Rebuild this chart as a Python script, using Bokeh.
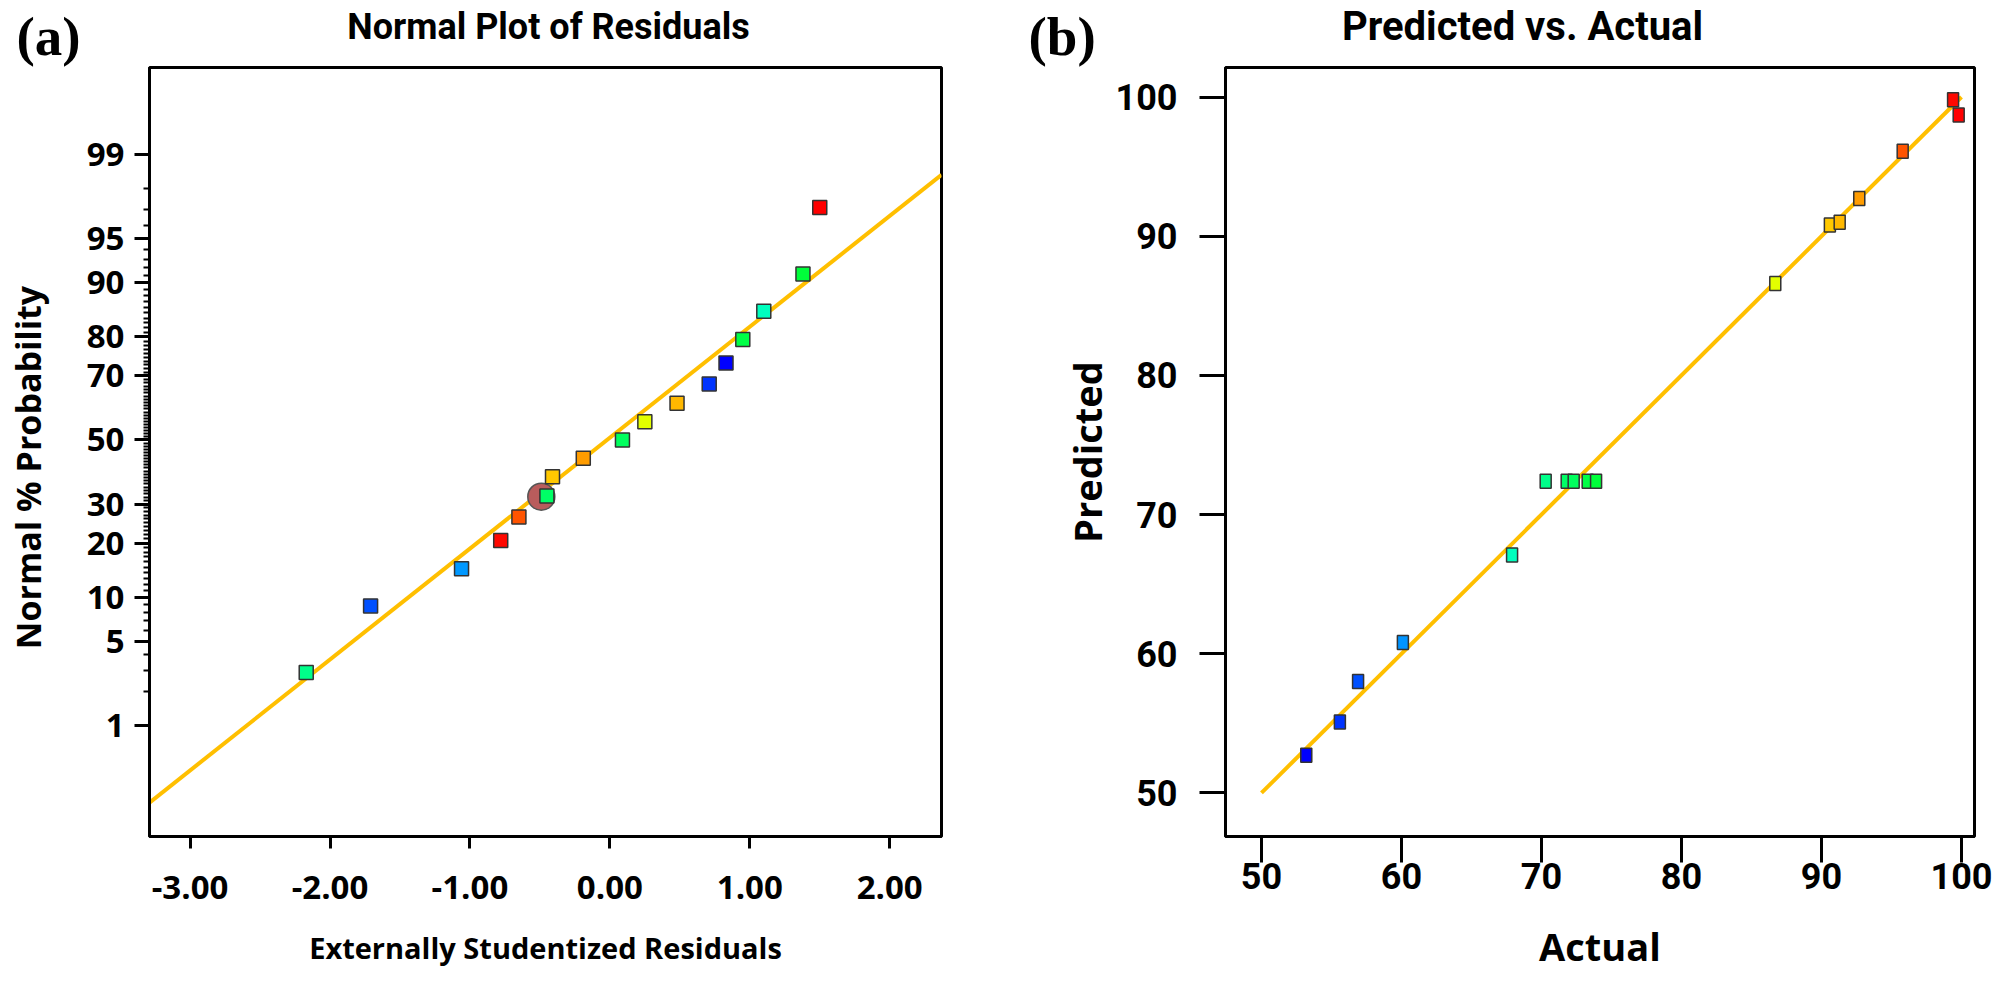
import math
from statistics import NormalDist
from bokeh.plotting import figure
from bokeh.layouts import row, column
from bokeh.models import (Range1d, FixedTicker, CustomJSTickFormatter, LinearColorMapper,
                          Label, ColumnDataSource, NumeralTickFormatter)
from bokeh.embed import file_html
from bokeh.resources import INLINE

ND = NormalDist()

# ---------------- Panel (a): Normal plot of residuals ----------------
resid = [-2.17, -1.71, -1.06, -0.78, -0.65, -0.45, -0.41, -0.19, 0.09, 0.25,
         0.48, 0.71, 0.83, 0.95, 1.10, 1.38, 1.50]
normal_pct = [2.9, 8.8, 14.7, 20.6, 26.5, 32.4, 38.2, 44.1, 50.0, 55.9,
              61.8, 67.6, 73.5, 79.4, 85.3, 91.2, 97.1]
resid_actual = [70.3, 57.0, 60.2, 99.4, 95.8, 71.8, 90.6, 92.7, 72.3, 86.7,
                91.3, 55.7, 53.3, 73.3, 67.9, 73.9, 99.8]
highlight_resid = [-0.49]
highlight_pct = [32.2]
fit_resid = [-3.29, 2.37]
fit_pct = [0.155, 98.47]
a_xticks = [-3, -2, -1, 0, 1, 2]
a_ytick_pct = [1, 5, 10, 20, 30, 50, 70, 80, 90, 95, 99]
a_yminor_pct = [p for p in range(1, 100) if p not in a_ytick_pct]

# ---------------- Panel (b): Predicted vs. Actual ----------------
actual = [53.2, 55.6, 56.9, 60.1, 67.9, 70.3, 71.8, 72.3, 73.3, 73.9,
          86.7, 90.6, 91.3, 92.7, 95.8, 99.4, 99.8]
predicted = [52.7, 55.1, 58.0, 60.8, 67.1, 72.4, 72.4, 72.4, 72.4, 72.4,
             86.6, 90.8, 91.0, 92.7, 96.1, 99.8, 98.7]
b_ticks = [50, 60, 70, 80, 90, 100]
diag = [50, 100]

# colour scale blue -> cyan -> green -> yellow -> red
anchors = [(0, 0, 255), (0, 255, 255), (0, 255, 0), (255, 255, 0), (255, 0, 0)]
palette = []
for i in range(256):
    t = i / 255 * 4
    k = min(int(t), 3)
    f = t - k
    c = [round(anchors[k][j] * (1 - f) + anchors[k + 1][j] * f) for j in range(3)]
    palette.append('#%02x%02x%02x' % tuple(c))
cmap = LinearColorMapper(palette=palette, low=min(actual), high=max(actual))

LINE = "#ffbf00"
SANS = "Open Sans"
TITLE_FONT = "Roboto"
PAGE_W, PAGE_H = 1992, 974


def style_axis(ax, size="33px"):
    ax.axis_line_width = 3
    ax.axis_line_color = "black"
    ax.major_tick_line_width = 3
    ax.major_tick_out = 15
    ax.major_tick_in = 0
    ax.minor_tick_line_width = 2
    ax.minor_tick_out = 6
    ax.minor_tick_in = 0
    ax.major_label_text_font = SANS
    ax.major_label_text_font_style = "bold"
    ax.major_label_text_font_size = size
    ax.major_label_text_color = "black"
    ax.axis_label_text_font = SANS
    ax.axis_label_text_font_style = "bold"
    ax.axis_label_text_color = "black"


def base_fig(w, h, xr, yr, l, r, t, b):
    p = figure(width=w, height=h, x_range=xr, y_range=yr, output_backend="svg",
               toolbar_location=None, title=None,
               min_border_left=l, min_border_right=r, min_border_top=t, min_border_bottom=b)
    p.xgrid.visible = False
    p.ygrid.visible = False
    p.outline_line_color = "black"
    p.outline_line_width = 3
    p.background_fill_color = "white"
    p.border_fill_color = None
    return p


# ---- page-wide back layer holding panel letters, titles and the (a) y title
back = figure(width=PAGE_W, height=PAGE_H, x_range=Range1d(0, PAGE_W), y_range=Range1d(PAGE_H, 0),
              output_backend="svg", toolbar_location=None, title=None,
              x_axis_location=None, y_axis_location=None,
              min_border=0, min_border_left=0, min_border_right=0, min_border_top=0, min_border_bottom=0)
back.xgrid.visible = False
back.ygrid.visible = False
back.outline_line_color = None
back.background_fill_color = None
back.border_fill_color = "white"
for txt, x in (("(a)", 16), ("(b)", 1028)):
    back.add_layout(Label(x=x, y=5, text=txt, text_font="Liberation Serif", text_font_style="bold",
                          text_font_size="55px", text_baseline="top", text_align="left",
                          text_color="black"))
for txt, x, fs in (("Normal Plot of Residuals", 548, "36px"), ("Predicted vs. Actual", 1522, "40px")):
    back.add_layout(Label(x=x, y=26, text=txt, text_font=TITLE_FONT, text_font_style="bold",
                          text_font_size=fs, text_baseline="alphabetic", text_align="center",
                          text_color="black"))
back.add_layout(Label(x=27, y=467, text="Normal % Probability", angle=math.pi / 2,
                      text_font=SANS, text_font_style="bold", text_font_size="34px",
                      text_baseline="middle", text_align="center", text_color="black"))

# ---- figure (a)
A_W, A_H = 1000, 974
pa = base_fig(A_W, A_H, Range1d(-3.29, 2.37), Range1d(-3.234, 3.038), 149, 59, 37, 135)
style_axis(pa.xaxis[0])
style_axis(pa.yaxis[0])
pa.xaxis[0].ticker = FixedTicker(ticks=a_xticks, minor_ticks=[])
pa.xaxis[0].formatter = NumeralTickFormatter(format="0.00")
pa.xaxis[0].major_tick_out = 12
pa.xaxis[0].major_label_standoff = 27
pa.xaxis[0].axis_label = "Externally Studentized Residuals"
pa.xaxis[0].axis_label_text_font_size = "29px"
pa.xaxis[0].axis_label_standoff = 26

z_ticks = [ND.inv_cdf(p / 100) for p in a_ytick_pct]
z_minor = [ND.inv_cdf(p / 100) for p in a_yminor_pct]
pa.yaxis[0].ticker = FixedTicker(ticks=z_ticks, minor_ticks=z_minor)
pa.yaxis[0].formatter = CustomJSTickFormatter(
    args=dict(zs=z_ticks, labs=[str(p) for p in a_ytick_pct]),
    code="""
let best = 0, bd = 1e9;
for (let i = 0; i < zs.length; i++) {
  const d = Math.abs(zs[i] - tick);
  if (d < bd) { bd = d; best = i; }
}
return labs[best];
""")
pa.yaxis[0].major_label_standoff = 10

pa.line(x=fit_resid, y=[ND.inv_cdf(p / 100) for p in fit_pct], line_color=LINE, line_width=4)
pa.scatter(x=highlight_resid, y=[ND.inv_cdf(p / 100) for p in highlight_pct], marker="circle",
           size=27, fill_color="#b95c5c", line_color="#555555", line_width=1.5)
src_a = ColumnDataSource(dict(x=resid, y=[ND.inv_cdf(p / 100) for p in normal_pct], actual=resid_actual))
pa.scatter(x="x", y="y", source=src_a, marker="square", size=14,
           fill_color={"field": "actual", "transform": cmap}, line_color="#333333", line_width=1.5)

# ---- figure (b)
B_W, B_H = 992, 974
pb = base_fig(B_W, B_H, Range1d(47.43, 100.93), Range1d(46.87, 102.12), 225, 18, 67, 135)
style_axis(pb.xaxis[0], "36px")
style_axis(pb.yaxis[0], "36px")
for ax in (pb.xaxis[0], pb.yaxis[0]):
    ax.ticker = FixedTicker(ticks=b_ticks, minor_ticks=[])
    ax.major_label_text_font = "Roboto"
    ax.major_tick_out = 26
    ax.axis_label_text_font_size = "38px"
pb.xaxis[0].major_label_standoff = 0
pb.yaxis[0].major_label_standoff = 22
pb.xaxis[0].axis_label = "Actual"
pb.xaxis[0].axis_label_standoff = 28
pb.yaxis[0].axis_label = "Predicted"
pb.yaxis[0].axis_label_standoff = 0

pb.line(x=diag, y=diag, line_color=LINE, line_width=4)
src_b = ColumnDataSource(dict(x=actual, y=predicted, actual=actual))
pb.rect(x="x", y="y", width=11, height=14, width_units="screen", height_units="screen", source=src_b,
        fill_color={"field": "actual", "transform": cmap}, line_color="#333333", line_width=1.5)

body = row(pa, pb, margin=(-PAGE_H, 0, 0, 0))
layout = column(back, body)
open("out.html", "w").write(file_html(layout, INLINE))
